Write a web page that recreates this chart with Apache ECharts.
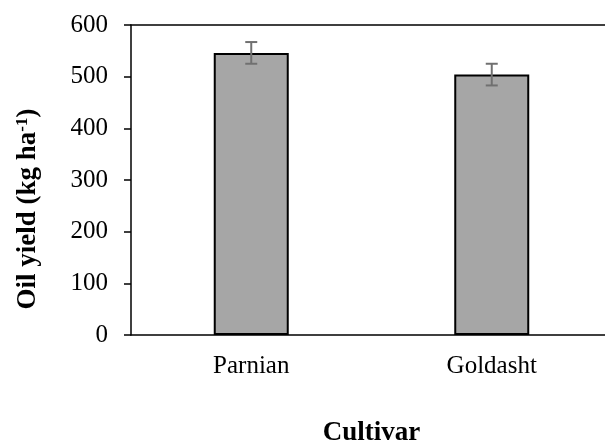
<!DOCTYPE html>
<html>
<head>
<meta charset="utf-8">
<script src="https://cdn.jsdelivr.net/npm/echarts@6/dist/echarts.min.js"></script>
<style>html,body{margin:0;padding:0;background:#fff}#c{width:605px;height:443px}</style>
</head>
<body>
<div id="c"></div>
<script>
const categories = ['Parnian', 'Goldasht'];
const values = [546, 504];
const errors = [21, 21];
const yTicks = [0, 100, 200, 300, 400, 500, 600];

const font = '"Liberation Serif", "Times New Roman", serif';
const chart = echarts.init(document.getElementById('c'), null, {renderer: 'canvas'});
chart.setOption({
  animation: false,
  backgroundColor: '#fff',
  grid: {left: 131, top: 25, width: 481, height: 310, containLabel: false, outerBoundsMode: 'none'},
  xAxis: [{
    type: 'category', data: categories, position: 'bottom',
    axisLine: {show: true, lineStyle: {color: '#000', width: 1.5}},
    axisTick: {show: false},
    axisLabel: {color: '#000', fontFamily: font, fontSize: 25, margin: 19},
    name: 'Cultivar', nameLocation: 'middle', nameGap: 85,
    nameTextStyle: {color: '#000', fontFamily: font, fontSize: 27, fontWeight: 'bold'}
  }, {
    type: 'category', data: categories, position: 'top',
    axisLine: {show: true, lineStyle: {color: '#000', width: 1.5}},
    axisTick: {show: false}, axisLabel: {show: false}
  }],
  yAxis: {
    type: 'value', min: yTicks[0], max: yTicks[yTicks.length - 1], interval: 100,
    axisLine: {show: true, lineStyle: {color: '#000', width: 1.5}},
    axisTick: {show: true, length: 7, lineStyle: {color: '#000', width: 1.5}},
    splitLine: {show: false},
    axisLabel: {color: '#000', fontFamily: font, fontSize: 25, margin: 23},
    name: 'Oil yield (kg ha{sup|-1})', nameLocation: 'middle', nameGap: 88, nameRotate: 90,
    nameTextStyle: {color: '#000', fontFamily: font, fontSize: 27, fontWeight: 'bold', padding: [0, 58, 0, 0],
      rich: {sup: {fontFamily: font, fontSize: 17, fontWeight: 'bold', color: '#000', verticalAlign: 'top', padding: [0, 0, 12, 0]}}}
  },
  series: [{
    type: 'bar', data: values, barWidth: 75,
    itemStyle: {color: '#a6a6a6', borderColor: '#000', borderWidth: 2}
  }, {
    type: 'custom', data: categories.map((c, i) => [i, values[i] - errors[i], values[i] + errors[i]]),
    z: 10,
    renderItem: function (params, api) {
      const lo = api.coord([api.value(0), api.value(1)]);
      const hi = api.coord([api.value(0), api.value(2)]);
      const hw = 6;
      const st = {stroke: '#707070', lineWidth: 2};
      return {type: 'group', children: [
        {type: 'line', shape: {x1: lo[0], y1: lo[1], x2: hi[0], y2: hi[1]}, style: st},
        {type: 'line', shape: {x1: lo[0] - hw, y1: lo[1], x2: lo[0] + hw, y2: lo[1]}, style: st},
        {type: 'line', shape: {x1: hi[0] - hw, y1: hi[1], x2: hi[0] + hw, y2: hi[1]}, style: st}
      ]};
    }
  }]
});
</script>
</body>
</html>
